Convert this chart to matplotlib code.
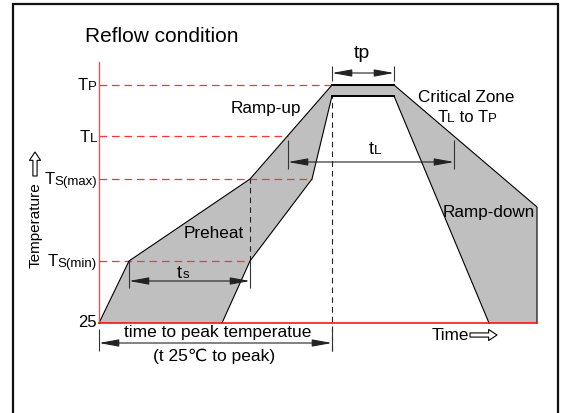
import matplotlib
matplotlib.use('Agg')
import numpy as np
import matplotlib.pyplot as plt
from matplotlib.offsetbox import TextArea, HPacker, AnnotationBbox
from matplotlib.patches import Rectangle

plt.rcParams['font.family'] = ['Liberation Sans', 'DejaVu Sans']
plt.rcParams['lines.scale_dashes'] = False

# temperature levels, schematic units above 25 C (not to scale)
level_names = ['S(min)', 'S(max)', 'L', 'P']
level_values = [62, 144, 187, 238]
ts_min, ts_max, t_liq, t_peak = level_values

# reflow window: outer and inner edge of the profile band (time, temperature)
outer_time = [0, 30, 151, 233, 295, 438, 438]
outer_temp = [0, 62, 144, 238, 238, 116, 0]
inner_time = [390, 295, 233, 213, 151, 123]
inner_temp = [0, 227, 227, 144, 62, 0]

# where the red guide lines meet the profile
guide_end = [151, 213, 189, 233]

# dimension arrows
ts_span = (30, 151)
tl_span = (189, 355)
tp_span = (233, 295)
peak_time = 233

fig = plt.figure(figsize=(5.67, 4.14), dpi=100)
ax = fig.add_axes([99 / 567, 90 / 414, 438 / 567, 261 / 414])
ax.set_xlim(0, 438)
ax.set_ylim(0, 261)
ax.patch.set_visible(False)
for s in ['top', 'right']:
    ax.spines[s].set_visible(False)
ax.spines['left'].set_color('#ff4545')
ax.spines['bottom'].set_color('red')
ax.spines['left'].set_linewidth(0.9)
ax.spines['bottom'].set_linewidth(1.1)
ax.set_xticks([])
ax.set_yticks([])

# band
ax.fill(np.r_[outer_time, inner_time], np.r_[outer_temp, inner_temp],
        color='#bfbfbf', lw=0, zorder=1)
ax.plot(outer_time, outer_temp, color='black', lw=0.8, clip_on=False, zorder=2)
ax.plot(inner_time, inner_temp, color='black', lw=0.8, clip_on=False, zorder=2)
# plateau edges look heavier in the original
ax.plot(outer_time[3:5], outer_temp[3:5], color='black', lw=1.4, zorder=2)
ax.plot(inner_time[1:3], inner_temp[1:3], color='black', lw=1.4, zorder=2)

# guide lines
for lvl, end in zip(level_values, guide_end):
    ax.plot([0, end], [lvl, lvl], color='#ff3535', lw=0.9,
            linestyle=(0, (5.5, 3.5)), zorder=1.5)
ax.plot([ts_span[1]] * 2, [ts_min, ts_max], color='#222', lw=0.8,
        linestyle=(0, (4, 3)), zorder=1.5)
ax.plot([peak_time] * 2, [-28, 227], color='#222', lw=0.8,
        linestyle=(0, (4, 3)), clip_on=False, zorder=1.5)


def dim_arrow(x0, x1, y, y_lo, y_hi):
    ax.annotate('', xy=(x1, y), xytext=(x0, y),
                arrowprops=dict(arrowstyle='<|-|>,head_length=1.2,head_width=0.22',
                                color='#222', lw=0.8, shrinkA=0, shrinkB=0,
                                mutation_scale=10),
                annotation_clip=False)
    ax.vlines([x0, x1], y_lo, y_hi, color='#333', lw=0.8, clip_on=False)


dim_arrow(*tp_span, 250, 242, 257)
dim_arrow(*tl_span, 161, 154, 183)
dim_arrow(*ts_span, 42, 35, 62)
dim_arrow(0, peak_time, -20, -28, -6)


def label(parts, xy, align=(0.5, 0.5)):
    boxes = [TextArea(s, textprops=dict(size=sz)) for s, sz in parts]
    pack = HPacker(children=boxes, align='baseline', pad=0, sep=0)
    ab = AnnotationBbox(pack, xy, xycoords='data', box_alignment=align,
                        frameon=False, pad=0, annotation_clip=False)
    ax.add_artist(ab)


# y labels
for name, lvl in zip(level_names, level_values):
    label([('T', 12), (name, 9.5)], (-2, lvl), align=(1, 0.5))
ax.text(-2, 1.5, '25', ha='right', va='center', size=12)

label([('t', 13), ('L', 9.5)], (276, 174))
label([('t', 13), ('s', 9.5)], (84, 51))
label([('T', 12), ('L', 9.5), (' to T', 12), ('P', 9.5)], (368, 207))
ax.text(263, 271, 'tp', ha='center', va='center', size=14)

ax.text(-14, 288, 'Reflow condition', ha='left', va='center', size=15)
ax.text(167, 216, 'Ramp-up', ha='center', va='center', size=12.3)
ax.text(115, 90, 'Preheat', ha='center', va='center', size=12.3)
ax.text(367, 227, 'Critical Zone', ha='center', va='center', size=12.3)
ax.text(390, 112, 'Ramp-down', ha='center', va='center', size=12.3)
ax.text(119, -9, 'time to peak temperatue', ha='center', va='center', size=12.5)
ax.text(115, -32, '(t 25\u2103 to peak)', ha='center', va='center', size=12.5)
ax.text(333, -12, 'Time', ha='left', va='center', size=12.3)
ax.text(-63, 99, 'Temperature', ha='center', va='center', size=11, rotation=90)

hollow = dict(arrowstyle='simple,head_length=0.6,head_width=0.8,tail_width=0.3',
              fc='white', ec='black', lw=0.8, shrinkA=0, shrinkB=0, mutation_scale=10)
ax.annotate('', xy=(398, -12), xytext=(371, -12), arrowprops=hollow,
            annotation_clip=False)
ax.annotate('', xy=(-64, 171), xytext=(-64, 147), arrowprops=hollow,
            annotation_clip=False)

fig.patches.append(Rectangle((13 / 567, -0.01), 545 / 567, 1 - 5 / 414 + 0.01,
                             transform=fig.transFigure, fill=False,
                             ec='#111', lw=1.6))

fig.savefig('out.png', dpi=100)
